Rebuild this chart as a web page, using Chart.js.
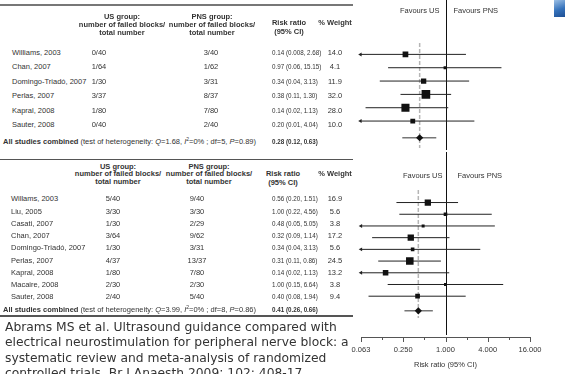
<!DOCTYPE html>
<html>
<head>
<meta charset="utf-8">
<script src="https://cdn.jsdelivr.net/npm/chart.js@4.4.1/dist/chart.umd.min.js"></script>
<style>
  html, body { margin: 0; padding: 0; background: #fff; }
  body { width: 567px; height: 374px; position: relative; overflow: hidden;
         font-family: "Liberation Sans", Arial, sans-serif; color: #333; }
  .t { position: absolute; white-space: nowrap; font-size: 7.5px; line-height: 1; transform: translateY(-50%); }
  .c { transform: translate(-50%, -50%); }
  .n { font-size: 7.2px; transform: translateY(-50%) scaleX(0.87); transform-origin: left center; }
  .b { font-weight: bold; }
  .rule { position: absolute; left: 0; width: 353px; background: #555; }
  canvas { position: absolute; }
  sup { font-size: 5px; vertical-align: 3px; line-height: 0; }
  #cite { position: absolute; left: 5px; top: 319.5px; font-family: "DejaVu Sans", Verdana, sans-serif;
          font-size: 12.3px; line-height: 15.5px; color: #333; white-space: nowrap; }
  #logo { position: absolute; left: 554px; top: 0; width: 11px; height: 17px;
          background: linear-gradient(160deg, #9cc0e6, #3572bb 55%, #1e4f94); }
</style>
</head>
<body>
<div class="rule" style="top:4px;height:2px;background:#777"></div>
<div class="rule" style="top:158.5px;height:1.5px"></div>
<div class="rule" style="top:315px;height:1.5px"></div>
<canvas id="topPlot" width="227" height="152" style="left:340px;top:0"></canvas>
<canvas id="bottomPlot" width="227" height="222" style="left:340px;top:152px"></canvas>
<div id="cite">Abrams MS et al. Ultrasound guidance compared with<br>electrical neurostimulation for peripheral nerve block: a<br>systematic review and meta-analysis of randomized<br>controlled trials. Br J Anaesth 2009; 102: 408-17</div>
<div id="logo"></div>
<script>
// ---- top analysis ----
const topStudies   = ['Williams, 2003', 'Chan, 2007', 'Domingo-Triadó, 2007', 'Perlas, 2007', 'Kapral, 2008', 'Sauter, 2008'];
const topUsFailed  = [0, 1, 1, 3, 1, 0];
const topUsTotal   = [40, 64, 30, 37, 80, 40];
const topPnsFailed = [3, 1, 3, 8, 7, 2];
const topPnsTotal  = [40, 62, 31, 37, 80, 40];
const topRR        = [0.14, 0.97, 0.34, 0.38, 0.14, 0.20];
const topLo        = [0.008, 0.06, 0.04, 0.11, 0.02, 0.01];
const topHi        = [2.68, 15.15, 3.13, 1.30, 1.13, 4.04];
const topWeight    = [14.0, 4.1, 11.9, 32.0, 28.0, 10.0];
const topPooled    = [0.28, 0.12, 0.63];
const topHet       = { Q: '1.68', I2: '0%', df: 5, P: '0.89' };

// ---- bottom analysis ----
const botStudies   = ['Willams, 2003', 'Liu, 2005', 'Casati, 2007', 'Chan, 2007', 'Domingo-Triadó, 2007',
                      'Perlas, 2007', 'Kapral, 2008', 'Macaire, 2008', 'Sauter, 2008'];
const botUsFailed  = [5, 3, 1, 3, 1, 4, 1, 2, 2];
const botUsTotal   = [40, 30, 30, 64, 30, 37, 80, 30, 40];
const botPnsFailed = [9, 3, 2, 9, 3, 13, 7, 2, 5];
const botPnsTotal  = [40, 30, 29, 62, 31, 37, 80, 30, 40];
const botRR        = [0.56, 1.00, 0.48, 0.32, 0.34, 0.31, 0.14, 1.00, 0.40];
const botLo        = [0.20, 0.22, 0.05, 0.09, 0.04, 0.11, 0.02, 0.15, 0.08];
const botHi        = [1.51, 4.56, 5.05, 1.14, 3.13, 0.86, 1.13, 6.64, 1.94];
const botWeight    = [16.9, 5.6, 3.8, 17.2, 5.6, 24.5, 13.2, 3.8, 9.4];
const botPooled    = [0.41, 0.26, 0.66];
const botHet       = { Q: '3.99', I2: '0%', df: 8, P: '0.86' };

// axis ticks of the lower plot
const majorTicks  = [0.0625, 0.25, 1, 4, 16];
const tickLabels  = ['0.063', '0.250', '1.000', '4.000', '16.000'];
const minorTicks  = [0.125, 0.5, 2, 8];

const fmt = v => v < 0.01 ? v.toFixed(3) : v.toFixed(2);

function text(str, x, y, cls, html) {
  const d = document.createElement('div');
  d.className = 't ' + (cls || '');
  d.style.left = x + 'px';
  d.style.top = y + 'px';
  if (html) d.innerHTML = str; else d.textContent = str;
  document.body.appendChild(d);
}

function table(t) {
  t.usHead.forEach((s, i) => text(s, t.usX, t.headY[i], 'b c'));
  t.pnsHead.forEach((s, i) => text(s, t.pnsX, t.headY[i], 'b c'));
  text('Risk ratio', t.rrHeadX, t.rrHeadY[0], 'b c');
  text('(95% CI)', t.rrHeadX, t.rrHeadY[1], 'b c');
  text('% Weight', t.wX, t.rrHeadY[0], 'b c');
  t.names.forEach((n, i) => {
    const y = t.rowY(i);
    text(n, t.nameX, y);
    text(t.usF[i] + '/' + t.usT[i], t.usValX, y, 'c');
    text(t.pnsF[i] + '/' + t.pnsT[i], t.pnsValX, y, 'c');
    text(t.rr[i].toFixed(2) + ' (' + fmt(t.lo[i]) + ', ' + fmt(t.hi[i]) + ')', t.rrX, y, 'n');
    text(t.w[i].toFixed(1), t.wX, y, 'c');
  });
  const h = t.het;
  text('<b>All studies combined</b> (test of heterogeneity: <i>Q</i>=' + h.Q + ', <i>I</i><sup>2</sup>=' + h.I2 +
       ' ; df=' + h.df + ', <i>P</i>=' + h.P + ')', 3, t.pooledY, '', true);
  text(t.pooled[0].toFixed(2) + ' (' + fmt(t.pooled[1]) + ', ' + fmt(t.pooled[2]) + ')', t.rrX, t.pooledY, 'b n');
}

const headLines = ['number of failed blocks/', 'total number'];

table({
  names: topStudies, usF: topUsFailed, usT: topUsTotal, pnsF: topPnsFailed, pnsT: topPnsTotal,
  rr: topRR, lo: topLo, hi: topHi, w: topWeight, pooled: topPooled, het: topHet,
  usHead: ['US group:'].concat(headLines), pnsHead: ['PNS group:'].concat(headLines),
  headY: [16.7, 25, 33.3], rrHeadY: [22.7, 31.7],
  usX: 122, pnsX: 212, rrHeadX: 289, wX: 335,
  nameX: 12, usValX: 99, pnsValX: 211, rrX: 272,
  rowY: i => 52.5 + 14.5 * i, pooledY: 142
});

table({
  names: botStudies, usF: botUsFailed, usT: botUsTotal, pnsF: botPnsFailed, pnsT: botPnsTotal,
  rr: botRR, lo: botLo, hi: botHi, w: botWeight, pooled: botPooled, het: botHet,
  usHead: ['US group:'].concat(headLines), pnsHead: ['PNS group:'].concat(headLines),
  headY: [166.5, 174, 181.5], rrHeadY: [174, 182.5],
  usX: 118, pnsX: 209, rrHeadX: 283, wX: 335,
  nameX: 11, usValX: 113, pnsValX: 197, rrX: 272,
  rowY: i => 199.3 + 12.25 * i, pooledY: 310
});

// reference line, pooled dashed line and "Favours" labels
const forestGuides = {
  id: 'forestGuides',
  beforeDatasetsDraw(chart, args, o) {
    const { ctx, scales: { x } } = chart;
    const x1 = Math.round(x.getPixelForValue(1)) + 0.5;
    const xp = x.getPixelForValue(o.pooled);
    ctx.save();
    ctx.strokeStyle = '#b5b5b5';
    ctx.lineWidth = 1.5;
    ctx.setLineDash([4, 2]);
    ctx.beginPath(); ctx.moveTo(xp, o.dash[0]); ctx.lineTo(xp, o.dash[1]); ctx.stroke();
    ctx.setLineDash([]);
    ctx.strokeStyle = '#111';
    ctx.lineWidth = 1;
    ctx.beginPath(); ctx.moveTo(x1, o.ref[0]); ctx.lineTo(x1, o.ref[1]); ctx.stroke();
    ctx.fillStyle = '#333';
    ctx.font = '7.5px "Liberation Sans", Arial, sans-serif';
    ctx.textBaseline = 'middle';
    ctx.textAlign = 'right';
    ctx.fillText('Favours US', x1 - o.gap[0], o.favY);
    ctx.textAlign = 'left';
    ctx.fillText('Favours PNS', x1 + o.gap[1], o.favY);
    ctx.restore();
  }
};

// major and minor tick marks under the lower plot
const tickMarks = {
  id: 'tickMarks',
  afterDraw(chart, args, o) {
    if (!o.show) return;
    const { ctx, scales: { x }, chartArea } = chart;
    const y0 = Math.round(chartArea.bottom);
    ctx.save();
    ctx.strokeStyle = '#555';
    ctx.lineWidth = 1;
    const mark = (v, len) => {
      const px = Math.round(x.getPixelForValue(v)) + 0.5;
      ctx.beginPath(); ctx.moveTo(px, y0); ctx.lineTo(px, y0 + len); ctx.stroke();
    };
    majorTicks.forEach(v => mark(v, 5));
    minorTicks.forEach(v => mark(v, 3));
    ctx.restore();
  }
};

function datasets(rr, lo, hi, w, pooled, xMin) {
  const n = rr.length;
  const pooledRow = n + 0.25;
  const ci = rr.map((_, i) => ({
    data: [{ x: lo[i], y: i }, { x: hi[i], y: i }],
    showLine: true, borderColor: '#222', borderWidth: 1, pointRadius: 0, order: 3
  }));
  const arrows = {
    data: lo.map((v, i) => v < xMin ? { x: xMin, y: i } : null).filter(Boolean),
    pointStyle: 'triangle', rotation: 270, pointRadius: 2.3,
    backgroundColor: '#222', borderWidth: 0, clip: false, order: 2
  };
  const squares = {
    data: rr.map((v, i) => ({ x: v, y: i })),
    pointStyle: 'rect', pointRadius: w.map(v => 1.08 * Math.sqrt(v)),
    backgroundColor: '#111', borderWidth: 0, order: 0
  };
  const pooledLine = {
    data: [{ x: pooled[1], y: pooledRow }, { x: pooled[2], y: pooledRow }],
    showLine: true, borderColor: '#777', borderWidth: 1.5, pointRadius: 0, order: 1
  };
  const diamond = {
    data: [{ x: pooled[0], y: pooledRow }],
    pointStyle: 'rectRot', pointRadius: 3.6, backgroundColor: '#111', borderWidth: 0, order: 0
  };
  return ci.concat([arrows, pooledLine, squares, diamond]);
}

function forest(canvasId, d, xRange, yRange, padding, guides, showAxis) {
  return new Chart(document.getElementById(canvasId).getContext('2d'), {
    type: 'scatter',
    data: { datasets: datasets(d.rr, d.lo, d.hi, d.w, d.pooled, xRange[0]) },
    options: {
      responsive: false,
      devicePixelRatio: 1,
      animation: false,
      events: [],
      layout: { padding },
      scales: {
        x: {
          type: 'logarithmic', min: xRange[0], max: xRange[1], display: showAxis,
          afterBuildTicks: axis => {
            axis.ticks = majorTicks.concat(minorTicks).sort((a, b) => a - b).map(value => ({ value }));
          },
          ticks: {
            autoSkip: false, maxRotation: 0, padding: 3, color: '#333',
            font: { family: '"Liberation Sans", Arial, sans-serif', size: 7.5 },
            callback: v => {
              const k = majorTicks.indexOf(v);
              return k >= 0 ? tickLabels[k] : '';
            }
          },
          grid: { display: false, drawTicks: true, tickLength: 5 },
          border: { display: true, color: '#555', width: 1 },
          title: {
            display: true, text: 'Risk ratio (95% CI)', color: '#333', padding: { top: 3, bottom: 0 },
            font: { family: '"Liberation Sans", Arial, sans-serif', size: 7.5 }
          }
        },
        y: { type: 'linear', reverse: true, min: yRange[0], max: yRange[1], display: false }
      },
      plugins: {
        legend: { display: false },
        tooltip: { enabled: false },
        forestGuides: guides,
        tickMarks: { show: showAxis }
      }
    },
    plugins: [forestGuides, tickMarks]
  });
}

// y range so that row i lands at firstPx + i * stepPx (pixels measured from the canvas top)
const rowRange = (firstPx, stepPx, areaPx) => {
  const min = -firstPx / stepPx;
  return [min, min + areaPx / stepPx];
};

forest('topPlot',
  { rr: topRR, lo: topLo, hi: topHi, w: topWeight, pooled: topPooled },
  [1 / 64, 64], rowRange(52.5, 14.5, 152),
  { left: 20.5, right: 36, top: 0, bottom: 0 },
  { pooled: topPooled[0], ref: [0, 150], dash: [43, 148], favY: 11, gap: [7, 7] },
  false);

forest('bottomPlot',
  { rr: botRR, lo: botLo, hi: botHi, w: botWeight, pooled: botPooled },
  [1 / 16, 16], rowRange(199.3 - 152, 12.25, 188),
  { left: 21, right: 37, top: 0, bottom: 5 },
  { pooled: botPooled[0], ref: [0, 183], dash: [38, 166], favY: 24, gap: [4, 11] },
  true);
</script>
</body>
</html>
